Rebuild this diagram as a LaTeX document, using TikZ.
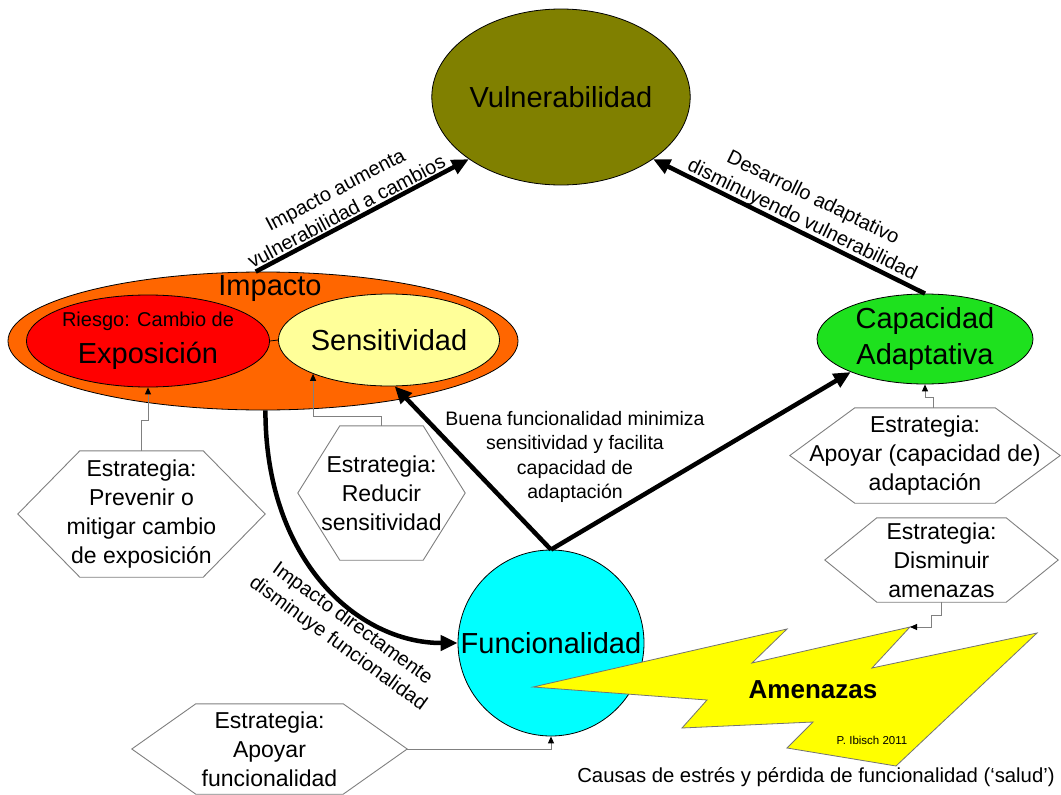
\documentclass[tikz,border=0pt]{standalone}
\usepackage{fontspec}
\setmainfont{Liberation Sans}
\usetikzlibrary{arrows.meta,shapes.geometric,calc}

\definecolor{vulcol}{RGB}{128,128,0}
\definecolor{impcol}{RGB}{255,102,0}
\definecolor{riescol}{RGB}{255,0,0}
\definecolor{sencol}{RGB}{255,255,153}
\definecolor{capcol}{RGB}{30,225,30}
\definecolor{funcol}{RGB}{0,255,255}
\definecolor{boltcol}{RGB}{255,255,0}
\definecolor{hexgray}{RGB}{128,128,128}

\newcommand{\myfs}[2]{\fontsize{#1}{#2}\selectfont}
\newcommand{\hexframe}[2]{\draw[hexline] (#1.west) -- ([xshift=#2]#1.north west) -- ([xshift=-#2]#1.north east) -- (#1.east) -- ([xshift=-#2]#1.south east) -- ([xshift=#2]#1.south west) -- cycle;}

\tikzset{
  bubble/.style={ellipse, draw=black, line width=0.8pt, inner sep=0pt, align=center},
  bigtxt/.style={font=\myfs{29}{36}},
  hexnode/.style={rectangle, inner sep=0pt, align=center, font=\myfs{23}{29}},
  hexline/.style={draw=hexgray, line width=0.9pt},
  thickarrow/.style={line width=4.5pt, -{Triangle[length=17pt,width=15pt]}},
  conn/.style={draw=hexgray, line width=0.9pt, -{Triangle[length=7pt,width=6pt,color=black]}},
  lbl/.style={font=\myfs{20}{24.5}, align=center, inner sep=1.5pt},
}

\begin{document}
\begin{tikzpicture}[x=1pt,y=-1pt]
\fill[white] (0,0) rectangle (1061,795);
\useasboundingbox (0,0) rectangle (1061,795);

% main bubbles
\node[bubble, fill=impcol, minimum width=510pt, minimum height=138pt] (imp) at (263,341) {};
\node[bigtxt] (impl) at (270,289) {Impacto};
\node[bubble, fill=riescol, minimum width=218pt, minimum height=92pt] (ries) at (148,341)
  {{\myfs{20}{24}Riesgo: Cambio de}\\[10pt]{\myfs{29}{32}Exposición}};
\node[bubble, fill=sencol, minimum width=218pt, minimum height=92pt, bigtxt] (sen) at (389,340) {Sensitividad};
\draw[line width=0.8pt] (ries.east) -- (sen.west);

\node[bubble, fill=vulcol, minimum width=244pt, minimum height=176pt, bigtxt] (vul) at (561,97) {Vulnerabilidad};
\node[bubble, fill=capcol, minimum width=216pt, minimum height=90pt, bigtxt] (cap) at (925,339) {Capacidad\\Adaptativa};
\node[circle, draw=black, line width=0.8pt, fill=funcol, minimum size=186pt, inner sep=0pt, bigtxt] (fun) at (551,643) {Funcionalidad};

% lightning
\coordinate (ltop) at (910,627);
\draw[fill=boltcol, draw=black!55, line width=0.8pt] (533,687) -- (787,629) -- (752,663) -- (ltop) -- (872,668) -- (1037,633) -- (896,766) -- (787,748) -- (813,722) -- (682,728) -- (707,700) -- cycle;
\node[font=\bfseries\myfs{26}{30}] (amen) at (813,690) {Amenazas};
\node[font=\myfs{11.5}{13}] (ibisch) at (872,740) {P. Ibisch 2011};

% strategy hexagons
\node[hexnode, minimum width=247pt, minimum height=126pt] (h1) at (141.5,514) {Estrategia:\\Prevenir o\\mitigar cambio\\de exposición};
\hexframe{h1}{62pt}
\node[hexnode, minimum width=167pt, minimum height=134pt] (h2) at (381.5,493) {Estrategia:\\Reducir\\sensitividad};
\hexframe{h2}{42pt}
\node[hexnode, minimum width=270pt, minimum height=95pt] (h3) at (925,455.5) {Estrategia:\\Apoyar (capacidad de)\\adaptación};
\hexframe{h3}{65pt}
\node[hexnode, minimum width=233pt, minimum height=84pt] (h4) at (941.5,560) {Estrategia:\\Disminuir\\amenazas};
\hexframe{h4}{52pt}
\node[hexnode, minimum width=275pt, minimum height=90pt] (h5) at (269.5,749) {Estrategia:\\Apoyar\\funcionalidad};
\hexframe{h5}{64pt}

% thin connectors
\draw[conn] (h1.north) -- ++(0,-30) -| (ries.south);
\draw[conn] (h2.north) -- ++(0,-9) -| (sen.204);
\draw[conn] ([xshift=8pt]h3.north) -- ++(0,-10) -| (cap.south);
\draw[conn] (h4.south) -- ++(0,13) -- ++(-10,0) |- (ltop);
\draw[conn] (h5.east) -| (fun.south);

% thick arrows
\draw[thickarrow] (imp.96) -- (vul.214)
  node[lbl, pos=0.45, sloped, above] (lbla) {Impacto aumenta\\vulnerabilidad a cambios};
\draw[thickarrow] (cap.north) -- (vul.-34);
\path (cap.north) -- (vul.-34)
  node[lbl, pos=0.47, rotate=-26, anchor=south] (lblb) {Desarrollo adaptativo\\disminuyendo vulnerabilidad};
\draw[thickarrow] (fun.north) -- (sen.-83);
\draw[thickarrow] (fun.north) -- (cap.204);
\node[lbl, font=\myfs{19.5}{24.5}] (lblc) at (575,457) {Buena funcionalidad minimiza\\sensitividad y facilita\\capacidad de\\adaptación};
\draw[thickarrow] (imp.-88) .. controls +(0,150) and +(-100,0) .. (fun.west);
\node[lbl, rotate=-36] (lble) at (345,634) {Impacto directamente\\disminuye funcionalidad};

\node[font=\myfs{20.3}{24}] (causas) at (816,777) {Causas de estrés y pérdida de funcionalidad (‘salud’)};
\end{tikzpicture}
\end{document}
